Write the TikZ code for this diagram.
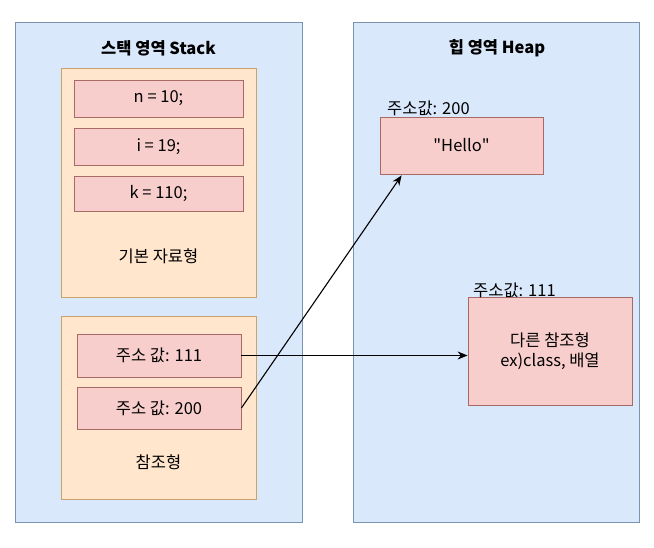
\documentclass[tikz,border=0pt]{standalone}
\usepackage{fontspec}
\setmainfont{Noto Sans CJK KR}
\usetikzlibrary{arrows.meta,calc}
\definecolor{contfill}{HTML}{DAE8FC}
\definecolor{contdraw}{HTML}{7A93B0}
\definecolor{grpfill}{HTML}{FFE6CC}
\definecolor{grpdraw}{HTML}{C9A36A}
\definecolor{cellfill}{HTML}{F8CECC}
\definecolor{celldraw}{HTML}{A86A66}
\begin{document}
\begin{tikzpicture}[x=1pt,y=-1pt,
  font=\fontsize{16.5}{19.5}\selectfont,
  container/.style={draw=contdraw,fill=contfill,line width=0.8pt,inner sep=0pt},
  group/.style={draw=grpdraw,fill=grpfill,line width=0.8pt,inner sep=0pt},
  cell/.style={draw=celldraw,fill=cellfill,line width=0.8pt,inner sep=0pt,align=center},
  title/.style={font=\fontsize{16.5}{19.5}\selectfont\bfseries},
  lbl/.style={inner sep=0pt},
  ptr/.style={line width=1.1pt,-{Stealth[length=10pt,width=8pt]}}]
\useasboundingbox (0,0) rectangle (654,548);
\fill[white] (0,0) rectangle (654,548);
% containers
\node[container,minimum width=287pt,minimum height=500pt] (stack) at (158.5,272) {};
\node[container,minimum width=286pt,minimum height=500pt] (heap) at (496,272) {};
\node[title] (stitle) at (158.5,48) {스택 영역 Stack};
\node[title] (htitle) at (497,48) {힙 영역 Heap};
% stack groups
\node[group,minimum width=195pt,minimum height=229pt] (prim) at (158.5,182.5) {};
\node[group,minimum width=195pt,minimum height=183pt] (refg) at (158.5,407.5) {};
\node[cell,minimum width=169pt,minimum height=37pt] (n) at (158.5,98.5) {n = 10;};
\node[cell,minimum width=169pt,minimum height=37pt] (i) at (158.5,146.5) {i = 19;};
\node[cell,minimum width=169pt,minimum height=35pt] (k) at (158.5,193.5) {k = 110;};
\node[lbl] (primlbl) at (158.5,256) {기본 자료형};
\node[cell,minimum width=164pt,minimum height=43pt] (r111) at (159,355.5) {주소 값: 111};
\node[cell,minimum width=164pt,minimum height=42pt] (r200) at (159,408) {주소 값: 200};
\node[lbl] (reflbl) at (158.5,462) {참조형};
% heap objects
\node[cell,minimum width=163pt,minimum height=57pt] (hello) at (461.5,145.5) {\textquotedbl Hello\textquotedbl};
\node[lbl,anchor=west] (hellolbl) at (387,108) {주소값: 200};
\node[cell,minimum width=164pt,minimum height=108pt] (other) at (550,351) {다른 참조형\\ex)class, 배열};
\node[lbl,anchor=west] (otherlbl) at (473,290) {주소값: 111};
% pointers
\coordinate (helloin) at ($(hello.south west)+(22,1)$);
\draw[ptr] (r111.east) -- (r111.east -| other.west);
\draw[ptr] (r200.east) -- (helloin);
\end{tikzpicture}
\end{document}
